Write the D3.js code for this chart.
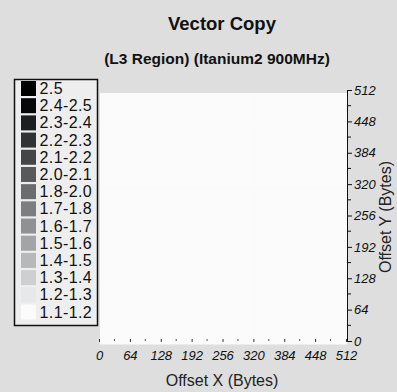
<!DOCTYPE html>
<html>
<head>
<meta charset="utf-8">
<script src="https://cdn.jsdelivr.net/npm/d3@7"></script>
<style>
  body { margin: 0; background: #dedede; }
  svg { display: block; font-family: "Liberation Sans", Arial, sans-serif; }
</style>
</head>
<body>
<svg id="chart" width="397" height="392"></svg>
<script>
// offsets in bytes (cell origin)
var xOffsets = [0, 64, 128, 192, 256, 320, 384, 448];
var yOffsets = [0, 64, 128, 192, 256, 320, 384, 448];
// speedup per cell, row = y offset (all in the lowest band -> white)
var row0 = [1.15, 1.15, 1.15, 1.15, 1.15, 1.15, 1.15, 1.15];
var row1 = [1.15, 1.15, 1.15, 1.15, 1.15, 1.15, 1.15, 1.15];
var row2 = [1.15, 1.15, 1.15, 1.15, 1.15, 1.15, 1.15, 1.15];
var row3 = [1.15, 1.15, 1.15, 1.15, 1.15, 1.15, 1.15, 1.15];
var row4 = [1.15, 1.15, 1.15, 1.15, 1.15, 1.15, 1.15, 1.15];
var row5 = [1.15, 1.15, 1.15, 1.15, 1.15, 1.15, 1.15, 1.15];
var row6 = [1.15, 1.15, 1.15, 1.15, 1.15, 1.15, 1.15, 1.15];
var row7 = [1.15, 1.15, 1.15, 1.15, 1.15, 1.15, 1.15, 1.15];
var rows = [row0, row1, row2, row3, row4, row5, row6, row7];

// legend bands, top to bottom
var bandLabels = ["2.5", "2.4-2.5", "2.3-2.4", "2.2-2.3", "2.1-2.2", "2.0-2.1", "1.8-2.0",
                  "1.7-1.8", "1.6-1.7", "1.5-1.6", "1.4-1.5", "1.3-1.4", "1.2-1.3", "1.1-1.2"];
var bandLows = [2.5, 2.4, 2.3, 2.2, 2.1, 2.0, 1.8, 1.7, 1.6, 1.5, 1.4, 1.3, 1.2, 1.1];
var bandColors = ["#000000", "#070709", "#1c1e20", "#303234", "#434547", "#57595b", "#6a6c6e",
                  "#7c7e80", "#8f9193", "#a2a4a6", "#b6b8ba", "#cdcfd1", "#e6e8ea", "#fbfbfb"];

var ticks = [0, 64, 128, 192, 256, 320, 384, 448, 512];

var svg = d3.select("#chart");

var x = d3.scaleLinear().domain([0, 512]).range([99, 346]);
var y = d3.scaleLinear().domain([0, 512]).range([341, 90]);

// threshold color: value -> band
var color = d3.scaleThreshold()
    .domain(bandLows.slice().reverse().slice(1))
    .range(bandColors.slice().reverse());

// cells
var cells = [];
rows.forEach(function(r, i) {
    r.forEach(function(v, j) {
        cells.push({ x: xOffsets[j], y: yOffsets[i], v: v });
    });
});

svg.append("g")
  .selectAll("rect")
  .data(cells)
  .enter()
  .append("rect")
  .attr("x", function(d) { return x(d.x) + 1; })
  .attr("y", function(d) { return y(d.y + 64) + 3; })
  .attr("width", function(d) { return x(d.x + 64) - x(d.x) + 0.5; })
  .attr("height", function(d) { return y(d.y) - y(d.y + 64) + 0.5; })
  .attr("fill", function(d) { return color(d.v); });

// x axis (dotted ticks, no line)
var xAxis = d3.axisBottom(x).tickValues(ticks).tickSize(3).tickPadding(9);
var gx = svg.append("g").attr("transform", "translate(0,339)").call(xAxis);
gx.select(".domain").remove();
gx.selectAll(".tick line").attr("stroke", "#333");
gx.selectAll("text").attr("font-size", 13).attr("font-style", "italic").attr("fill", "#111");
gx.append("g").selectAll("line")
  .data(d3.range(32, 512, 64))
  .enter().append("line")
  .attr("x1", function(d) { return x(d); }).attr("x2", function(d) { return x(d); })
  .attr("y1", 0).attr("y2", 2).attr("stroke", "#555");

// y axis on the right
var yAxis = d3.axisRight(y).tickValues(ticks).tickSize(5).tickPadding(2);
var gy = svg.append("g").attr("transform", "translate(347,0)").call(yAxis);
gy.select(".domain").attr("stroke", "#111").attr("d", "M0.5," + y(512) + "V" + y(0));
gy.selectAll(".tick line").attr("stroke", "#111");
gy.selectAll("text").attr("font-size", 13).attr("font-style", "italic").attr("fill", "#111");
gy.append("g").selectAll("line")
  .data(d3.range(32, 512, 64))
  .enter().append("line")
  .attr("y1", function(d) { return y(d); }).attr("y2", function(d) { return y(d); })
  .attr("x1", 0).attr("x2", 4).attr("stroke", "#111");

// titles
svg.append("text").attr("x", 222).attr("y", 30).attr("text-anchor", "middle")
  .attr("font-size", 18.5).attr("font-weight", "bold").attr("fill", "#111").text("Vector Copy");
svg.append("text").attr("x", 217).attr("y", 64).attr("text-anchor", "middle")
  .attr("font-size", 15.5).attr("font-weight", "bold").attr("fill", "#111")
  .text("(L3 Region) (Itanium2 900MHz)");
svg.append("text").attr("x", 222).attr("y", 386).attr("text-anchor", "middle")
  .attr("font-size", 16).attr("fill", "#222").text("Offset X (Bytes)");
svg.append("text").attr("transform", "translate(391,217) rotate(-90)").attr("text-anchor", "middle")
  .attr("font-size", 16).attr("fill", "#222").text("Offset Y (Bytes)");

// legend
var leg = svg.append("g");
leg.append("rect").attr("x", 14.5).attr("y", 79.5).attr("width", 83).attr("height", 246)
  .attr("fill", "#eeeeee").attr("stroke", "#111").attr("stroke-width", 1.5);
var ly = d3.scalePoint().domain(bandLabels).range([88.5, 312]);
leg.selectAll(".sw")
  .data(bandLabels)
  .enter().append("rect")
  .attr("x", 21).attr("width", 15)
  .attr("y", function(d) { return ly(d) - 7.5; })
  .attr("height", 15)
  .attr("fill", function(d, i) { return bandColors[i]; });
leg.selectAll(".lt")
  .data(bandLabels)
  .enter().append("text")
  .attr("x", 39.5)
  .attr("y", function(d) { return ly(d) + 5.5; })
  .attr("font-size", 16).attr("letter-spacing", 0.4).attr("fill", "#111")
  .text(function(d) { return d; });
</script>
</body>
</html>
